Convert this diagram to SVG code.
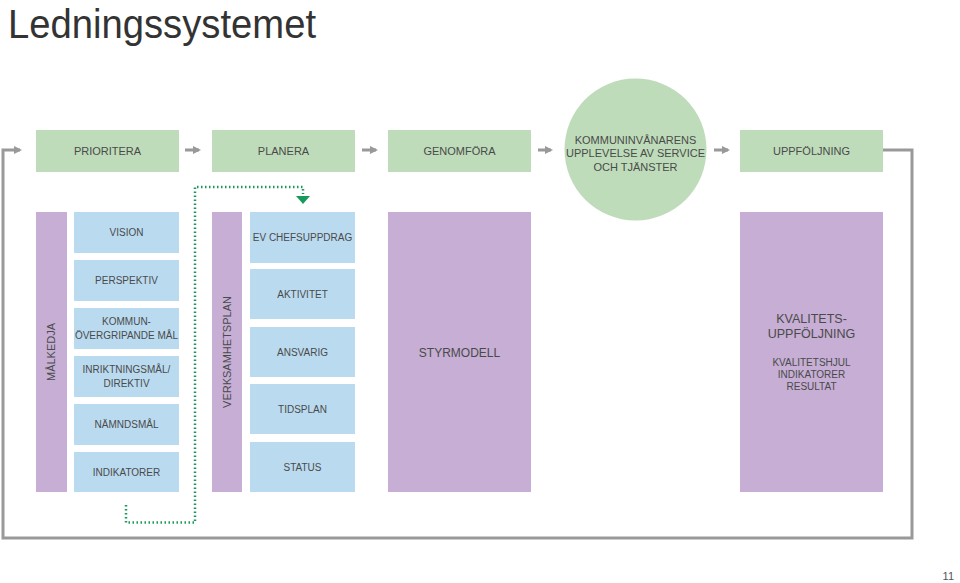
<svg xmlns="http://www.w3.org/2000/svg" width="960" height="583" viewBox="0 0 960 583">
<style>
text{font-family:"Liberation Sans",Arial,sans-serif;fill:#4a4a4a;text-anchor:middle}
.g{fill:#bedcb9}
.b{fill:#badaf0}
.p{fill:#c6aed4}
.t{font-size:11px}
.s{font-size:10px}
.flow{stroke:#999;stroke-width:3;fill:none}
.dot{stroke:#1a9a5a;stroke-width:2.5;fill:none;stroke-dasharray:1.5 2.5}
</style>
<defs>
<marker id="ah" markerWidth="8" markerHeight="8" refX="6" refY="4" orient="auto" markerUnits="userSpaceOnUse" viewBox="0 0 8 8">
<path d="M0,0 L8,4 L0,8 Z" fill="#999"/>
</marker>
</defs>
<text x="8" y="38" style="font-size:41px;text-anchor:start;fill:#333;font-weight:300" textLength="308" lengthAdjust="spacingAndGlyphs">Ledningssystemet</text>

<g id="connectors">
<path class="flow" d="M883,150 H912 V538 H3 V150 H20" marker-end="url(#ah)"/>
<path class="flow" d="M185,150 H199" marker-end="url(#ah)"/>
<path class="flow" d="M362,150 H376" marker-end="url(#ah)"/>
<path class="flow" d="M538,150 H551" marker-end="url(#ah)"/>
<path class="flow" d="M714,150 H728" marker-end="url(#ah)"/>
<path class="dot" d="M126,505 V522.5 H195 V187 H303 V194"/>
<path d="M296,196 L310,196 L303,204 Z" fill="#1a9a5a"/>
</g>

<g id="prioritera"><rect class="g" x="36" y="130" width="143" height="42"/><text class="t" x="107.5" y="155">PRIORITERA</text></g>
<g id="planera"><rect class="g" x="212" y="130" width="143" height="42"/><text class="t" x="283.5" y="155">PLANERA</text></g>
<g id="genomfora"><rect class="g" x="388" y="130" width="143" height="42"/><text class="t" x="459.5" y="155">GENOMFÖRA</text></g>
<g id="upplevelse"><circle class="g" cx="635.5" cy="149.5" r="71"/>
<text class="t" x="635.5" y="144">KOMMUNINVÅNARENS</text>
<text class="t" x="635.5" y="157">UPPLEVELSE AV SERVICE</text>
<text class="t" x="635.5" y="171">OCH TJÄNSTER</text></g>
<g id="uppfoljning"><rect class="g" x="740" y="130" width="143" height="42"/><text class="t" x="811.5" y="155">UPPFÖLJNING</text></g>

<g id="malkedja"><rect class="p" x="36" y="212" width="31" height="280"/><text class="t" transform="translate(55,352) rotate(-90)">MÅLKEDJA</text></g>
<g id="vision"><rect class="b" x="74" y="212" width="105" height="41"/><text class="s" x="126.5" y="236">VISION</text></g>
<g id="perspektiv"><rect class="b" x="74" y="260" width="105" height="41"/><text class="s" x="126.5" y="284">PERSPEKTIV</text></g>
<g id="kommun"><rect class="b" x="74" y="308" width="105" height="41"/><text class="s" x="126.5" y="325">KOMMUN-</text><text class="s" x="126.5" y="339">ÖVERGRIPANDE MÅL</text></g>
<g id="inriktning"><rect class="b" x="74" y="356" width="105" height="41"/><text class="s" x="126.5" y="373">INRIKTNINGSMÅL/</text><text class="s" x="126.5" y="387">DIREKTIV</text></g>
<g id="namndsmal"><rect class="b" x="74" y="404" width="105" height="41"/><text class="s" x="126.5" y="428">NÄMNDSMÅL</text></g>
<g id="indikatorer"><rect class="b" x="74" y="452" width="105" height="40"/><text class="s" x="126.5" y="476">INDIKATORER</text></g>

<g id="verksamhetsplan"><rect class="p" x="212" y="212" width="30" height="280"/><text class="t" transform="translate(231,352) rotate(-90)">VERKSAMHETSPLAN</text></g>
<g id="chefsuppdrag"><rect class="b" x="250" y="212" width="105" height="51"/><text class="s" x="302.5" y="241">EV CHEFSUPPDRAG</text></g>
<g id="aktivitet"><rect class="b" x="250" y="269" width="105" height="50"/><text class="s" x="302.5" y="298">AKTIVITET</text></g>
<g id="ansvarig"><rect class="b" x="250" y="327" width="105" height="50"/><text class="s" x="302.5" y="356">ANSVARIG</text></g>
<g id="tidsplan"><rect class="b" x="250" y="384" width="105" height="50"/><text class="s" x="302.5" y="413">TIDSPLAN</text></g>
<g id="status"><rect class="b" x="250" y="442" width="105" height="50"/><text class="s" x="302.5" y="471">STATUS</text></g>

<g id="styrmodell"><rect class="p" x="388" y="212" width="143" height="280"/><text x="459.5" y="357" style="font-size:12px">STYRMODELL</text></g>
<g id="kvalitet"><rect class="p" x="740" y="212" width="143" height="280"/>
<text x="811.5" y="323" style="font-size:12.5px">KVALITETS-</text>
<text x="811.5" y="338" style="font-size:12.5px">UPPFÖLJNING</text>
<text class="s" x="811.5" y="366">KVALITETSHJUL</text>
<text class="s" x="811.5" y="378">INDIKATORER</text>
<text class="s" x="811.5" y="390">RESULTAT</text></g>

<text x="954" y="580" style="font-size:11px;text-anchor:end;fill:#555">11</text>
</svg>
